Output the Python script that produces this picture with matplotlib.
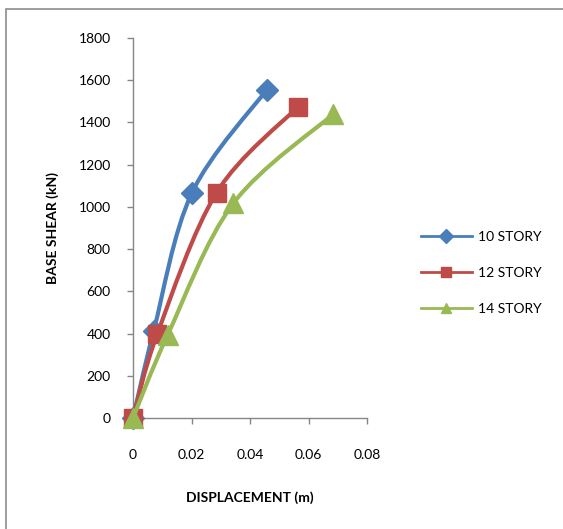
import numpy as np
import matplotlib
matplotlib.use('Agg')
from matplotlib import pyplot as plt
from matplotlib.path import Path
from matplotlib.patches import PathPatch, Rectangle
from matplotlib.lines import Line2D

plt.rcParams['font.family'] = ['Lato', 'DejaVu Sans']

# Pushover curves
labels = ['10 STORY', '12 STORY', '14 STORY']
disp_10 = [0.0, 0.0071, 0.0201, 0.0457]
shear_10 = [0, 414, 1065, 1555]
disp_12 = [0.0, 0.0083, 0.0286, 0.0563]
shear_12 = [0, 398, 1068, 1473]
disp_14 = [0.0, 0.0119, 0.0343, 0.0685]
shear_14 = [0, 395, 1017, 1440]

colors = ['#4A7EBB', '#BE4B48', '#98B954']
markers = ['D', 's', '^']
msizes = [11, 13, 14]

def smooth_path(x, y):
    # Excel style smoothed line: Catmull-Rom turned into cubic Bezier pieces
    p = np.column_stack([x, y]).astype(float)
    n = len(p)
    verts = [p[0]]
    codes = [Path.MOVETO]
    for i in range(n-1):
        p0 = p[i-1] if i > 0 else p[i]
        p3 = p[i+2] if i+2 < n else p[i+1]
        c1 = p[i] + (p[i+1]-p0)/6
        c2 = p[i+1] - (p3-p[i])/6
        verts += [c1, c2, p[i+1]]
        codes += [Path.CURVE4]*3
    return Path(verts, codes)

fig = plt.figure(figsize=(5.63, 5.29), dpi=100)
# outer chart border (cut off at right and bottom like the screenshot)
fig.patches.append(Rectangle((6/563, -0.1), 1.2, 1-9/529+0.1, transform=fig.transFigure,
                             fill=False, edgecolor='#8c8c8c', lw=1.2))
ax = fig.add_axes([133/563, 1-418/529, (367-133)/563, (418-38)/529])

series = [(disp_10, shear_10), (disp_12, shear_12), (disp_14, shear_14)]
for k, (xd, yd) in enumerate(series):
    ax.add_patch(PathPatch(smooth_path(xd, yd), fill=False, edgecolor=colors[k], lw=3,
                           capstyle='round', joinstyle='round', zorder=3+k))
    ax.plot(xd, yd, linestyle='none', marker=markers[k], markersize=msizes[k],
            color=colors[k], zorder=3+k, clip_on=False)

ax.set_xlim(0, 0.08)
ax.set_ylim(0, 1800)
ax.set_xticks([0, 0.02, 0.04, 0.06, 0.08])
ax.set_xticklabels(['0', '0.02', '0.04', '0.06', '0.08'])
ax.set_yticks(range(0, 2000, 200))
for s in ['top', 'right']:
    ax.spines[s].set_visible(False)
for s in ['left', 'bottom']:
    ax.spines[s].set_color('#868686')
    ax.spines[s].set_linewidth(1.0)
ax.tick_params(axis='both', colors='#868686', labelcolor='black', labelsize=10, length=4, width=1.0)
ax.tick_params(axis='x', pad=18)
ax.tick_params(axis='y', pad=12)
ax.set_xlabel('DISPLACEMENT (m)', fontsize=10, fontweight='bold', labelpad=22)
ax.set_ylabel('BASE SHEAR (kN)', fontsize=10, fontweight='bold', labelpad=14)

handles = [Line2D([], [], color=colors[k], lw=2, marker=markers[k], markersize=7)
           for k in range(3)]
fig.legend(handles, labels, loc='upper left', bbox_to_anchor=(415/563, 1-225/529),
           frameon=False, fontsize=10, handlelength=3.7, handletextpad=0.4,
           labelspacing=1.75, borderaxespad=0)

fig.savefig('out.png', dpi=100)
